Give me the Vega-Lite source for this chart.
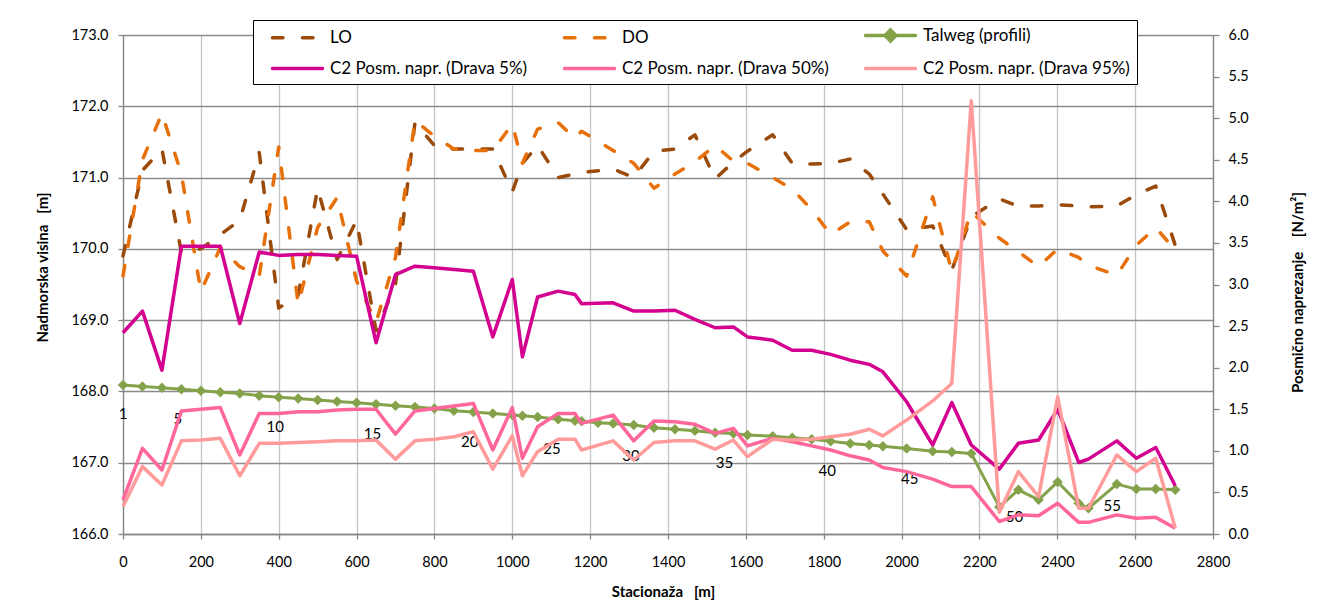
{
  "$schema": "https://vega.github.io/schema/vega-lite/v6.json",
  "width": 1090,
  "height": 499,
  "autosize": {"type": "none"},
  "padding": {"left": 123, "top": 35, "right": 104, "bottom": 81},
  "background": "white",
  "config": {
    "font": "Lato",
    "view": {"stroke": null},
    "axis": {
      "labelFont": "Lato", "labelFontSize": 14.5, "labelColor": "#000000",
      "titleFont": "Lato", "titleFontSize": 14, "titleColor": "#000000", "titleFontWeight": "bold",
      "domainColor": "#868686", "domainWidth": 1.3, "tickColor": "#868686", "tickWidth": 1.3
    }
  },
  "datasets": {
    "d": [
      {"s": 0, "LO": 169.9, "DO": 169.62, "T": 168.09, "P5": 2.42, "P50": 0.41, "P95": 0.33, "profil": 1},
      {"s": 50, "LO": 171.1, "DO": 171.25, "T": 168.07, "P5": 2.68, "P50": 1.03, "P95": 0.81},
      {"s": 100, "LO": 171.4, "DO": 171.9, "T": 168.05, "P5": 1.97, "P50": 0.77, "P95": 0.59},
      {"s": 150, "LO": 169.95, "DO": 171.05, "T": 168.03, "P5": 3.46, "P50": 1.48, "P95": 1.12},
      {"s": 200, "LO": 170.0, "DO": 169.4, "T": 168.01, "P5": 3.46, "P50": 1.5, "P95": 1.13, "profil": 5},
      {"s": 250, "LO": 170.2, "DO": 170.02, "T": 167.99, "P5": 3.46, "P50": 1.52, "P95": 1.15},
      {"s": 300, "LO": 170.4, "DO": 169.75, "T": 167.97, "P5": 2.53, "P50": 0.95, "P95": 0.7},
      {"s": 350, "LO": 171.35, "DO": 169.62, "T": 167.94, "P5": 3.39, "P50": 1.45, "P95": 1.09},
      {"s": 400, "LO": 169.17, "DO": 171.43, "T": 167.92, "P5": 3.35, "P50": 1.45, "P95": 1.09},
      {"s": 450, "LO": 169.35, "DO": 169.22, "T": 167.9, "P5": 3.36, "P50": 1.47, "P95": 1.1, "profil": 10},
      {"s": 500, "LO": 170.85, "DO": 170.3, "T": 167.88, "P5": 3.36, "P50": 1.47, "P95": 1.11},
      {"s": 550, "LO": 169.85, "DO": 170.72, "T": 167.86, "P5": 3.35, "P50": 1.49, "P95": 1.12},
      {"s": 600, "LO": 170.4, "DO": 169.55, "T": 167.84, "P5": 3.34, "P50": 1.5, "P95": 1.12},
      {"s": 650, "LO": 168.85, "DO": 168.97, "T": 167.82, "P5": 2.3, "P50": 1.5, "P95": 1.13},
      {"s": 700, "LO": 169.5, "DO": 169.88, "T": 167.8, "P5": 3.12, "P50": 1.2, "P95": 0.9, "profil": 15},
      {"s": 750, "LO": 171.77, "DO": 171.8, "T": 167.78, "P5": 3.22, "P50": 1.48, "P95": 1.12},
      {"s": 800, "LO": 171.45, "DO": 171.58, "T": 167.76, "P5": 3.2, "P50": 1.51, "P95": 1.14},
      {"s": 850, "LO": 171.4, "DO": 171.4, "T": 167.73, "P5": 3.18, "P50": 1.54, "P95": 1.17},
      {"s": 900, "LO": 171.4, "DO": 171.38, "T": 167.71, "P5": 3.16, "P50": 1.57, "P95": 1.23},
      {"s": 950, "LO": 171.4, "DO": 171.38, "T": 167.69, "P5": 2.37, "P50": 1.01, "P95": 0.78, "profil": 20},
      {"s": 1000, "LO": 170.8, "DO": 171.75, "T": 167.67, "P5": 3.06, "P50": 1.52, "P95": 1.18},
      {"s": 1026, "LO": 171.2, "DO": 171.2, "T": 167.66, "P5": 2.13, "P50": 0.91, "P95": 0.7},
      {"s": 1065, "LO": 171.45, "DO": 171.68, "T": 167.64, "P5": 2.85, "P50": 1.29, "P95": 0.99},
      {"s": 1118, "LO": 171.0, "DO": 171.77, "T": 167.61, "P5": 2.92, "P50": 1.45, "P95": 1.14},
      {"s": 1161, "LO": 171.05, "DO": 171.55, "T": 167.59, "P5": 2.88, "P50": 1.45, "P95": 1.14, "profil": 25},
      {"s": 1178, "LO": 171.07, "DO": 171.65, "T": 167.58, "P5": 2.77, "P50": 1.33, "P95": 1.01},
      {"s": 1220, "T": 167.56},
      {"s": 1259, "LO": 171.12, "DO": 171.38, "T": 167.55, "P5": 2.78, "P50": 1.43, "P95": 1.12},
      {"s": 1312, "LO": 171.0, "DO": 171.2, "T": 167.53, "P5": 2.68, "P50": 1.12, "P95": 0.89},
      {"s": 1364, "LO": 171.37, "DO": 170.85, "T": 167.49, "P5": 2.68, "P50": 1.36, "P95": 1.1, "profil": 30},
      {"s": 1418, "LO": 171.4, "DO": 171.05, "T": 167.47, "P5": 2.69, "P50": 1.35, "P95": 1.12},
      {"s": 1469, "LO": 171.6, "DO": 171.22, "T": 167.45, "P5": 2.58, "P50": 1.32, "P95": 1.12},
      {"s": 1521, "LO": 170.98, "DO": 171.45, "T": 167.42, "P5": 2.48, "P50": 1.21, "P95": 1.02},
      {"s": 1568, "LO": 171.22, "DO": 171.23, "T": 167.41, "P5": 2.49, "P50": 1.27, "P95": 1.13},
      {"s": 1604, "LO": 171.37, "DO": 171.2, "T": 167.39, "P5": 2.37, "P50": 1.06, "P95": 0.93, "profil": 35},
      {"s": 1669, "LO": 171.6, "DO": 171.0, "T": 167.37, "P5": 2.33, "P50": 1.15, "P95": 1.14},
      {"s": 1719, "LO": 171.2, "DO": 170.84, "T": 167.35, "P5": 2.21, "P50": 1.11, "P95": 1.13},
      {"s": 1769, "LO": 171.19, "DO": 170.55, "T": 167.33, "P5": 2.21, "P50": 1.06, "P95": 1.14},
      {"s": 1818, "LO": 171.2, "DO": 170.2, "T": 167.3, "P5": 2.16, "P50": 1.01, "P95": 1.17},
      {"s": 1868, "LO": 171.26, "DO": 170.38, "T": 167.27, "P5": 2.09, "P50": 0.94, "P95": 1.2, "profil": 40},
      {"s": 1917, "LO": 171.05, "DO": 170.38, "T": 167.25, "P5": 2.04, "P50": 0.89, "P95": 1.26},
      {"s": 1952, "LO": 170.77, "DO": 169.97, "T": 167.23, "P5": 1.95, "P50": 0.8, "P95": 1.18},
      {"s": 2013, "LO": 170.27, "DO": 169.62, "T": 167.2, "P5": 1.59, "P50": 0.75, "P95": 1.37},
      {"s": 2080, "LO": 170.32, "DO": 170.73, "T": 167.16, "P5": 1.07, "P50": 0.66, "P95": 1.6, "profil": 45},
      {"s": 2129, "LO": 169.7, "DO": 169.68, "T": 167.15, "P5": 1.58, "P50": 0.57, "P95": 1.81},
      {"s": 2179, "LO": 170.45, "DO": 170.52, "T": 167.13, "P5": 1.07, "P50": 0.57, "P95": 5.21},
      {"s": 2251, "LO": 170.7, "DO": 170.15, "T": 166.38, "P5": 0.78, "P50": 0.15, "P95": 0.26},
      {"s": 2300, "LO": 170.6, "DO": 169.96, "T": 166.62, "P5": 1.09, "P50": 0.23, "P95": 0.75},
      {"s": 2352, "LO": 170.6, "DO": 169.75, "T": 166.48, "P5": 1.13, "P50": 0.22, "P95": 0.45, "profil": 50},
      {"s": 2401, "LO": 170.62, "DO": 170.0, "T": 166.73, "P5": 1.5, "P50": 0.37, "P95": 1.65},
      {"s": 2455, "LO": 170.6, "DO": 169.88, "T": 166.43, "P5": 0.86, "P50": 0.14, "P95": 0.31},
      {"s": 2480, "LO": 170.59, "DO": 169.77, "T": 166.36, "P5": 0.9, "P50": 0.14, "P95": 0.31},
      {"s": 2553, "LO": 170.6, "DO": 169.63, "T": 166.7, "P5": 1.12, "P50": 0.23, "P95": 0.95},
      {"s": 2603, "LO": 170.76, "DO": 170.05, "T": 166.63, "P5": 0.91, "P50": 0.19, "P95": 0.75, "profil": 55},
      {"s": 2653, "LO": 170.88, "DO": 170.3, "T": 166.63, "P5": 1.04, "P50": 0.2, "P95": 0.91},
      {"s": 2703, "LO": 170.05, "DO": 169.98, "T": 166.62, "P5": 0.58, "P50": 0.07, "P95": 0.07}
    ]
  },
  "data": {"name": "d"},
  "resolve": {"scale": {"y": "independent"}},
  "layer": [
    {
      "layer": [
        {
          "transform": [{"fold": ["LO", "DO"], "as": ["key", "val"]}, {"filter": "isValid(datum.val)"}],
          "mark": {"type": "line", "strokeWidth": 3.5, "strokeDash": [10.5, 19.5], "strokeCap": "round", "strokeJoin": "round"},
          "encoding": {
            "x": {
              "field": "s", "type": "quantitative", "title": "Stacionaža\u00a0\u00a0\u00a0[m]",
              "scale": {"domain": [0, 2800], "nice": false, "zero": false},
              "axis": {
                "values": [0, 100, 200, 300, 400, 500, 600, 700, 800, 900, 1000, 1100, 1200, 1300, 1400, 1500, 1600, 1700, 1800, 1900, 2000, 2100, 2200, 2300, 2400, 2500, 2600, 2700, 2800],
                "labelExpr": "datum.value % 200 == 0 ? datum.label : ''",
                "format": "d", "grid": true, "gridColor": "#C4C4C4", "gridWidth": 1.3,
                "tickSize": 5, "labelPadding": 16, "labelFlush": false, "labelOverlap": false,
                "titleFontSize": 15, "titleFontWeight": "bold",
                "titleX": 540, "titleY": 57, "titleBaseline": "middle", "titleAlign": "center"
              }
            },
            "y": {
              "field": "val", "type": "quantitative", "title": "Nadmorska visina\u00a0\u00a0\u00a0[m]",
              "scale": {"domain": [166, 173], "nice": false, "zero": false},
              "axis": {
                "values": [166, 167, 168, 169, 170, 171, 172, 173],
                "format": ".1f", "grid": true, "gridColor": "#8C8C8C", "gridWidth": 1.3,
                "tickSize": 5, "labelPadding": 10,
                "titleFontSize": 15, "titleFontWeight": "bold",
                "titleX": -81, "titleY": 232, "titleAngle": 270, "titleBaseline": "middle", "titleAlign": "center"
              }
            },
            "color": {
              "field": "key", "type": "nominal",
              "scale": {"domain": ["LO", "DO", "T", "P5", "P50", "P95"], "range": ["#9A4B0C", "#E8700A", "#84A24A", "#D4008F", "#FF6699", "#FF9B9B"]},
              "legend": {
                "orient": "none", "legendX": 130, "legendY": -15,
                "columns": 3, "direction": "horizontal", "title": null,
                "padding": 7, "strokeColor": "#000000", "fillColor": "#FFFFFF",
                "columnPadding": 24, "rowPadding": 11,
                "labelFont": "Lato", "labelFontSize": 17, "labelColor": "#000000", "labelOffset": 53, "labelLimit": 400,
                "symbolSize": 100, "symbolStrokeWidth": 3.5,
                "labelExpr": "datum.value == 'T' ? 'Talweg (profili)' : datum.value == 'P5' ? 'C2 Posm. napr. (Drava 5%)' : datum.value == 'P50' ? 'C2 Posm. napr. (Drava 50%)' : datum.value == 'P95' ? 'C2 Posm. napr. (Drava 95%)' : datum.label",
                "encode": {
                  "symbols": {
                    "update": {
                      "shape": {"signal": "datum.value == 'T' ? 'M0.8,0L10.8,0M5.8,-1.1L6.9,0L5.8,1.1L4.7,0Z' : 'M0.8,0L10.8,0'"},
                      "size": {"value": 100},
                      "fill": {"signal": "datum.value == 'T' ? scale('color', datum.value) : 'transparent'"},
                      "stroke": {"signal": "scale('color', datum.value)"},
                      "strokeDash": {"signal": "(datum.value == 'LO' || datum.value == 'DO') ? [10.5, 19.5] : [1, 0]"},
                      "strokeCap": {"value": "round"},
                      "strokeWidth": {"value": 3.5},
                      "opacity": {"value": 1}
                    }
                  }
                }
              }
            }
          }
        },
        {
          "mark": {"type": "line", "color": "#84A24A", "strokeWidth": 3, "strokeJoin": "round",
                   "point": {"shape": "diamond", "size": 110, "filled": true, "color": "#84A24A"}},
          "encoding": {
            "x": {"field": "s", "type": "quantitative"},
            "y": {"field": "T", "type": "quantitative"}
          }
        },
        {
          "transform": [{"filter": "datum.profil == 1"}],
          "mark": {"type": "text", "font": "Lato", "fontSize": 15, "color": "#000000", "dy": 29},
          "encoding": {
            "x": {"field": "s", "type": "quantitative"},
            "y": {"field": "T", "type": "quantitative"},
            "text": {"field": "profil", "type": "nominal"}
          }
        },
        {
          "transform": [{"filter": "datum.profil > 1 && datum.profil < 50"}],
          "mark": {"type": "text", "font": "Lato", "fontSize": 15, "color": "#000000", "dx": -23, "dy": 28},
          "encoding": {
            "x": {"field": "s", "type": "quantitative"},
            "y": {"field": "T", "type": "quantitative"},
            "text": {"field": "profil", "type": "nominal"}
          }
        },
        {
          "transform": [{"filter": "datum.profil >= 50"}],
          "mark": {"type": "text", "font": "Lato", "fontSize": 15, "color": "#000000", "dx": -24, "dy": 17},
          "encoding": {
            "x": {"field": "s", "type": "quantitative"},
            "y": {"field": "T", "type": "quantitative"},
            "text": {"field": "profil", "type": "nominal"}
          }
        }
      ]
    },
    {
      "transform": [{"fold": ["P5", "P50", "P95"], "as": ["key", "val"]}, {"filter": "isValid(datum.val)"}],
      "mark": {"type": "line", "strokeWidth": 3.5, "strokeJoin": "round"},
      "encoding": {
        "x": {"field": "s", "type": "quantitative"},
        "y": {
          "field": "val", "type": "quantitative", "title": "Posmično naprezanje\u00a0\u00a0\u00a0\u00a0[N/m²]",
          "scale": {"domain": [0, 6], "nice": false, "zero": true},
          "axis": {
            "orient": "right",
            "values": [0, 0.5, 1, 1.5, 2, 2.5, 3, 3.5, 4, 4.5, 5, 5.5, 6],
            "format": ".1f", "grid": false, "tickSize": 6, "labelPadding": 9,
            "titleFontSize": 15, "titleFontWeight": "bold",
            "titleX": 84, "titleY": 257, "titleAngle": 270, "titleBaseline": "middle", "titleAlign": "center"
          }
        },
        "color": {
          "field": "key", "type": "nominal",
          "scale": {"domain": ["LO", "DO", "T", "P5", "P50", "P95"], "range": ["#9A4B0C", "#E8700A", "#84A24A", "#D4008F", "#FF6699", "#FF9B9B"]},
          "legend": null
        }
      }
    }
  ]
}
